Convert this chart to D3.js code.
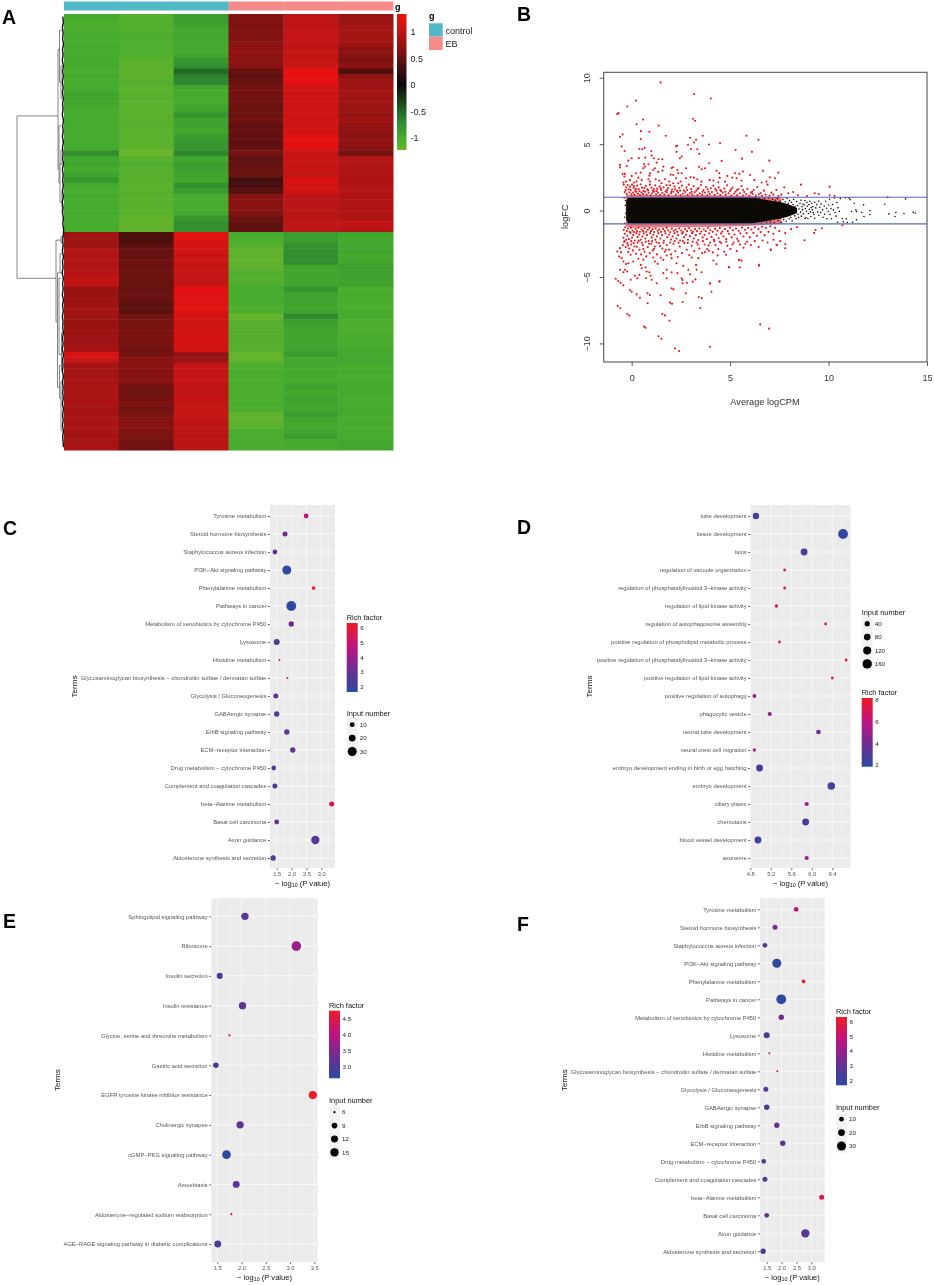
<!DOCTYPE html>
<html>
<head>
<meta charset="utf-8">
<script src="https://cdn.jsdelivr.net/npm/d3@7"></script>
<style>
  html, body { margin: 0; padding: 0; background: #fff; }
  svg { display: block; font-family: "Liberation Sans", Arial, sans-serif; filter: blur(0.35px); }
</style>
</head>
<body>
<svg id="fig" width="934" height="1285"></svg>
<script>
// ---- panel A, heatmap: one list per sample, top to bottom
const hmSamples = ['control1','control2','control3','EB1','EB2','EB3'];
const hmGroups = ['control','control','control','EB','EB','EB'];
const hmControl1 = [-0.98,-1.03,-1.03,-1.02,-1.02,-1.02,-1.02,-1.0,-0.98,-0.98,-1.03,-0.98,-1.02,-1.0,-0.94,-0.94,-0.95,-1.0,-1.0,-1.0,-1.0,-1.02,-1.0,-1.0,-1.0,-0.74,-0.95,-0.95,-1.0,-0.92,-0.82,-0.98,-1.02,-1.0,-1.0,-1.0,-1.0,-1.02,-1.02,-1.0,
 0.82,0.85,0.8,0.92,0.93,0.92,0.92,0.95,1.0,1.0,0.78,0.78,0.8,0.82,0.84,0.82,0.78,0.78,0.82,0.8,0.82,0.84,1.2,1.05,0.85,0.85,0.86,0.86,0.88,0.88,0.88,0.88,0.85,0.86,0.88,0.88,0.88,0.85,0.86,0.88];
const hmControl2 = [-1.08,-1.08,-1.08,-1.06,-1.06,-1.06,-1.06,-1.06,-1.12,-1.14,-1.16,-1.14,-1.08,-1.12,-1.12,-1.1,-1.12,-1.12,-1.12,-1.12,-1.1,-1.12,-1.12,-1.12,-1.12,-1.23,-1.1,-1.06,-1.1,-1.1,-1.1,-1.12,-1.1,-1.12,-1.12,-1.1,-1.12,-1.17,-1.17,-1.15,
 0.36,0.36,0.45,0.5,0.5,0.55,0.55,0.55,0.52,0.52,0.5,0.54,0.5,0.44,0.44,0.58,0.6,0.6,0.62,0.62,0.6,0.56,0.6,0.72,0.68,0.68,0.7,0.68,0.56,0.56,0.58,0.64,0.56,0.62,0.66,0.7,0.65,0.62,0.58,0.56];
const hmControl3 = [-0.88,-0.88,-0.95,-0.98,-0.96,-0.98,-0.98,-0.95,-0.8,-0.76,-0.52,-0.66,-0.68,-0.95,-1.0,-1.0,-0.98,-0.92,-0.8,-0.92,-0.92,-0.95,-0.86,-0.82,-0.82,-0.68,-0.95,-0.86,-0.9,-0.95,-0.95,-0.76,-0.86,-1.0,-1.0,-1.0,-0.98,-0.82,-0.74,-0.76,
 1.28,1.2,1.15,1.14,1.06,1.05,1.02,1.05,1.02,1.02,1.26,1.22,1.22,1.24,1.24,1.15,1.12,1.12,1.15,1.15,1.16,1.15,0.76,0.78,1.04,1.02,1.02,1.02,1.0,1.0,1.04,1.0,1.04,1.04,1.0,0.98,1.0,0.96,0.98,0.96];
const hmEB1 = [0.66,0.66,0.64,0.66,0.64,0.7,0.74,0.72,0.72,0.7,0.52,0.48,0.52,0.58,0.58,0.56,0.54,0.52,0.54,0.58,0.48,0.52,0.48,0.46,0.48,0.6,0.46,0.48,0.52,0.52,0.3,0.34,0.42,0.68,0.68,0.7,0.66,0.52,0.48,0.46,
 -1.02,-1.05,-1.1,-1.16,-1.16,-1.16,-1.14,-1.06,-1.1,-1.06,-1.02,-1.02,-1.02,-1.05,-1.05,-1.2,-1.1,-1.1,-1.08,-1.08,-1.1,-1.1,-1.18,-1.16,-1.05,-1.03,-1.03,-1.05,-1.05,-1.03,-1.05,-1.03,-1.03,-1.16,-1.16,-1.14,-1.03,-1.03,-1.02,-1.02];
const hmEB2 = [0.98,1.0,1.0,1.02,1.02,1.0,1.0,1.02,1.05,1.08,1.28,1.28,1.26,1.12,1.1,1.1,1.1,1.08,1.12,1.1,1.1,1.14,1.24,1.26,1.24,1.05,1.05,1.05,1.05,1.0,1.18,1.16,1.14,0.98,0.96,0.96,0.96,0.98,1.0,0.98,
 -0.86,-0.88,-0.78,-0.74,-0.74,-0.74,-0.94,-0.94,-0.95,-0.95,-0.8,-0.92,-0.92,-0.95,-0.92,-0.7,-0.88,-0.92,-0.95,-0.95,-0.95,-0.92,-0.86,-0.97,-0.97,-0.98,-0.98,-0.98,-0.92,-0.98,-0.92,-0.95,-0.95,-0.86,-0.95,-0.98,-0.95,-0.88,-0.98,-0.98];
const hmEB3 = [0.78,0.8,0.84,0.84,0.84,0.82,0.72,0.7,0.64,0.72,0.38,0.72,0.8,0.82,0.84,0.82,0.8,0.78,0.76,0.82,0.74,0.74,0.72,0.74,0.72,0.56,0.92,0.92,0.92,0.9,0.9,0.9,0.94,0.9,0.92,0.9,0.92,0.9,1.04,0.92,
 -0.96,-0.98,-0.96,-0.96,-0.98,-0.96,-0.9,-0.9,-0.92,-0.9,-1.04,-1.0,-1.02,-1.04,-1.0,-1.02,-1.04,-1.06,-1.04,-1.02,-1.02,-0.98,-0.98,-0.96,-1.0,-1.0,-1.02,-0.98,-1.0,-0.98,-1.02,-1.0,-0.98,-1.0,-1.02,-1.0,-0.98,-1.0,-0.96,-0.96];
const hmTicks = [1, 0.5, 0, -0.5, -1];
// dendrogram merges: height, row of arm a, height of arm a, row of arm b, height of arm b
const dendroMerges = [
 [47,18.2,6,48,8],[6,6,4.5,28,5],[4.5,2.5,2,12,3],[3,9,1.8,15,2],[5,20,3,30.5,4],[3,24.5,1.5,27,1.5],[4,27,2,34,2],[2,32,1.4,36,1.5],
 [8,41,3,56,7],[3,40.3,1.5,41.5,1.5],[6.5,47,4,68,3.5],[4,43.5,1.6,47,1.8],[5,48,2.5,62,2.5],[4.5,64,2,70,2.2],[3,67,1.5,76,1.8],[2.5,58,1,65,1]];
const dendroLeaf = [1.2,0.6,1.6,0.8,1.4,0.5,1.5,0.9,1.7,0.6,1.3,0.7,1.6,0.8,1.5,0.6,1.4,0.9,1.7,0.5,1.3,0.8,1.6,0.6,1.5,0.9,1.4,0.5,1.6,0.8,1.3,0.7,1.5,0.6,1.7,0.9,1.4,0.6,1.2,0.4,
 0.6,1.4,0.8,1.6,0.5,1.5,0.9,1.8,0.6,1.4,0.8,1.7,0.5,1.5,0.7,1.6,0.9,1.3,0.6,1.5,0.8,1.7,0.5,1.4,0.9,1.6,0.6,1.5,0.8,1.3,0.7,1.6,0.5,1.4,0.8,1.5,0.6,1.3,0.9,0.5];

// ---- panel B, MA plot
const maTicksX = [0,5,10,15];
const maTicksY = [-10,-5,0,5,10];
const maCut = [-1,1];
// dense black band, drawn as one envelope
const maBandX = [-0.28,-0.18,0,1,2,3,4,5,5.5,6,6.4,6.8,7.2,7.6,8,8.4];
const maBandUp = [0.7,0.98,1,1,1,1,1,1,1,0.98,0.92,0.82,0.72,0.62,0.45,0.2];
const maBandDown = [-0.7,-0.98,-1,-1,-1,-1,-1,-1,-1,-0.98,-0.9,-0.8,-0.7,-0.6,-0.42,-0.18];
// red fringe right outside the cut lines
const maFringeX = [-0.3,0,1,2,3,4,5,6,6.5,7,7.6];
const maFringeUp = [1.15,1.2,1.18,1.16,1.18,1.16,1.14,1.12,1.08,1.05,1.02];
const maFringeDown = [-1.2,-1.3,-1.28,-1.25,-1.26,-1.24,-1.2,-1.14,-1.1,-1.05,-1.02];
const maBlack = [[-0.38,0.95],[-0.33,0.4],[-0.3,-0.2],[-0.35,-0.95],[-0.31,0.75],[-0.36,-0.5],
 [6.3,0.98],[6.5,0.95],[6.6,-0.95],[6.75,0.92],[6.85,-0.88],[6.95,0.94],[7.05,-0.85],[7.15,0.85],[7.25,-0.92],[7.3,0.78],[7.4,0.9],[7.45,-0.75],[7.55,0.72],[7.6,-0.88],[7.68,0.84],[7.72,-0.68],[7.8,0.66],[7.85,-0.8],[7.9,0.92],[7.95,0.55],[8.0,-0.62],[8.02,0.75],[8.08,-0.5],[8.12,0.62],[8.15,-0.78],[8.2,0.45],[8.22,0.85],[8.28,-0.4],[8.3,0.3],[8.35,-0.62],[8.38,0.68],[8.42,0.38],[8.45,-0.28],[8.48,-0.52],[8.5,0.12],[8.55,0.55],[8.58,-0.12],[8.62,-0.42],[8.65,0.3],[8.68,0.05],[8.72,-0.25],[8.76,0.42],[8.8,-0.6],[8.82,0.15],[8.88,-0.05],[8.92,0.32],[8.98,-0.22],[9.02,0.1],[9.08,-0.1],[9.12,0.22],[9.18,0.05],[9.22,-0.15],
 [8.6,0.78],[8.7,0.5],[8.8,0.75],[8.9,0.62],[8.85,-0.52],[8.95,-0.6],[9.0,0.45],[9.05,0.7],[9.1,-0.45],[9.15,0.55],[9.2,0.3],[9.25,-0.3],[9.3,0.62],[9.3,-0.58],[9.35,0.2],[9.4,0.44],[9.45,-0.1],[9.5,-0.35],[9.5,0.72],[9.55,0.25],[9.6,-0.15],[9.62,0.5],[9.7,0.05],[9.72,-0.5],[9.78,0.35],[9.8,-0.28],[9.85,0.7],[9.9,0.18],[9.92,-0.62],[9.98,-0.05],[10.0,0.42],[10.05,0.85],[10.08,-0.3],[10.12,0.15],[10.15,-0.62],[10.2,0.45],[10.25,0.05],[10.3,0.95],[10.33,-0.15],[10.38,-0.42],[10.42,0.6],[10.46,-0.88],[10.48,0.22],[10.55,-0.05],[10.6,0.9],[10.7,-0.6],[10.75,-0.85],[10.85,0.96],[10.9,-0.62],[10.95,-0.9],[11.05,0.92],[11.1,0.82],[11.17,-0.07],[11.22,-0.88],[11.3,0.55],[11.39,0.05],[11.42,-0.07],[11.42,-0.7],[11.68,-0.15],[11.78,0.43],[11.8,-0.45],[12.1,0],[12.1,-0.3],[12.86,0.48],[13.07,-0.25],[13.42,-0.15],[13.37,-0.45],[13.83,-0.22],[13.91,0.88],[14.3,-0.12],[14.4,-0.2]];
const maRedUpper = [[1.47,9.65],[3.17,8.77],[4.02,8.44],[0.22,8.29],[-0.22,7.84],[-0.73,7.26],[-0.66,7.34],[0.58,6.86],[3.12,6.91],[3.22,6.76],[0.25,6.5],[1.37,6.41],[0.47,5.98],[0.9,5.93],[-0.46,5.73],[-0.59,5.55],[1.73,5.63],[3.61,5.63],[5.83,5.63],[6.44,5.33],[2.97,5.48],[3.27,5.33],[3.17,5.13],[0.46,5.38],[4.49,5.08],[2.86,4.95],[3.93,4.97],[2.3,4.87],
 [-0.51,4.82],[-0.36,4.49],[0.39,4.64],[0.54,4.62],[0.66,4.72],[1.0,4.49],[1.02,4.14],[1.13,3.94],[0,3.94],[-0.17,3.76],[0.36,3.96],[0.69,3.99],[1.37,3.86],[1.56,3.86],[1.27,3.61],[2.25,4.84],[2.28,4.42],[2.54,4.07],[2.45,3.94],[3.01,4.64],[3.33,4.62],[3.43,4.27],[5.28,4.57],[5.6,3.91],[6.11,4.42],[6.99,3.76],[4.57,3.74],[3.94,3.56],[3.42,3.29],[3.72,3.19],[3.55,3.11],[-0.59,3.44],[-0.59,3.24],[-0.25,3.36],[0.63,3.51],[0.68,3.31],[0.85,3.49],[0.59,3.19],[1.18,3.19],[1.61,3.31],[1.57,3.01],[1.35,2.91],[0.93,2.81],[0.9,2.63],[1.22,2.36],[-0.46,2.76],[-0.34,2.76],[-0.37,2.56],[0,2.61],[0.22,2.81],[0.46,2.86],[0.34,2.48],[1.1,3.06],[2.03,3.21],[2.11,3.26],[2.32,3.06],[1.98,2.71],[2.11,2.68],[2.37,2.81],[2.54,2.81],[2.76,3.19],[3.16,2.48],[3.33,2.36],[2.99,2.51],[4.31,3.01],[4.45,2.81],[4.47,2.48],[4.86,2.61],[5.25,2.81],[5.47,2.76],[5.65,2.94],[6.01,2.68],[6.67,2.99],[7.45,2.86],[7.02,2.51],[7.28,2.43],[6.85,2.18],[6.6,2.11],[6.23,2.31],[5.58,2.26],[5.33,2.43],[5.11,2.48],[4.74,2.18],[4.4,2.13],[4.15,2.26],[3.96,2.31],[3.55,2.18],[2.76,2.43],[2.49,2.18],[2.25,2.43],[1.91,2.18],[1.69,2.36],[1.52,2.06],[2.37,2.06],[2.11,2.06],[1.78,1.93],[1.4,2.26],[0.93,2.18],[0.85,2.36],[0.51,2.31],[0.25,2.18],[0.12,2.11],[-0.08,2.31],[-0.29,2.18],[-0.42,2.11],
 [-0.4,1.95],[-0.28,1.75],[-0.2,1.92],[-0.15,1.6],[-0.08,1.8],[0.02,1.95],[0.1,1.7],[0.18,1.5],[0.28,1.88],[0.36,1.62],[0.45,1.98],[0.52,1.72],[0.6,1.48],[0.72,1.85],[0.8,1.6],[0.92,1.95],[1.0,1.72],[1.08,1.5],[1.2,1.9],[1.3,1.65],[1.42,1.82],[1.5,1.55],[1.62,1.76],[1.72,1.45],[1.85,1.7],[1.95,1.9],[2.05,1.58],[2.18,1.82],[2.3,1.48],[2.42,1.72],[2.55,1.88],[2.65,1.52],[2.78,1.75],[2.9,1.95],[3.02,1.62],[3.15,1.85],[3.28,1.5],[3.4,1.7],[3.52,1.92],[3.65,1.55],[3.78,1.78],[3.9,1.42],[4.02,1.68],[4.15,1.88],[4.3,1.5],[4.42,1.75],[4.55,1.45],[4.7,1.66],[4.85,1.9],[5.0,1.48],[5.12,1.72],[5.28,1.42],[5.42,1.6],[5.58,1.85],[5.72,1.4],[5.88,1.62],[6.05,1.35],[6.2,1.55],[6.38,1.78],[6.55,1.32],[6.72,1.5],[6.9,1.95],[7.1,1.35],[7.35,1.55],[7.75,1.75],[7.6,1.2],[7.95,1.3],[8.2,1.4],[8.6,1.95],[8.45,1.15],[8.9,1.1],[9.3,1.3],[9.5,1.25],[10.05,1.8],[10.05,1.15],[10.3,1.12],[13,1.0],
 [-0.35,1.4],[-0.25,1.25],[-0.12,1.38],[-0.02,1.22],[0.08,1.35],[0.14,1.18],[0.24,1.42],[0.32,1.28],[0.42,1.16],[0.5,1.36],[0.58,1.24],[0.68,1.42],[0.76,1.2],[0.86,1.34],[0.96,1.15],[1.04,1.3],[1.14,1.42],[1.24,1.22],[1.34,1.36],[1.44,1.18],[1.56,1.32],[1.66,1.2],[1.78,1.38],[1.88,1.16],[2.0,1.3],[2.12,1.42],[2.24,1.2],[2.36,1.35],[2.48,1.16],[2.6,1.28],[2.72,1.4],[2.84,1.18],[2.96,1.32],[3.08,1.22],[3.2,1.38],[3.34,1.16],[3.46,1.3],[3.58,1.2],[3.72,1.36],[3.84,1.15],[3.96,1.26],[4.08,1.4],[4.22,1.18],[4.36,1.3],[4.5,1.16],[4.62,1.36],[4.78,1.2],[4.92,1.3],[5.06,1.14],[5.2,1.28],[5.36,1.16],[5.5,1.3],[5.66,1.14],[5.82,1.24],[5.98,1.12],[6.14,1.25],[6.3,1.14],[6.46,1.22],[6.62,1.12],[6.8,1.2],[7.0,1.12],[7.2,1.2],[7.45,1.1],
 [-0.3,1.55],[-0.05,1.55],[0.12,1.85],[0.22,1.62],[0.4,1.45],[0.64,1.7],[0.84,1.52],[1.12,1.62],[1.26,1.48],[1.48,1.68],[1.8,1.55],[2.02,1.42],[2.2,1.6],[2.46,1.5],[2.82,1.55],[3.05,1.42],[3.35,1.62],[3.6,1.42],[3.86,1.6],[4.25,1.62],[4.5,1.55],[4.76,1.42],[5.05,1.6],[5.35,1.55],[5.66,1.55],[6.12,1.42]];
const maRedLower = [[2.41,-10.58],[2.2,-10.38],[3.97,-10.25],[1.36,-9.47],[1.51,-9.65],[6.98,-8.89],[6.53,-8.57],[0.63,-8.74],[0.7,-8.82],[1.92,-8.29],[1.56,-7.79],[1.69,-7.89],[-0.12,-7.91],[-0.22,-7.79],[-0.71,-7.19],[-0.58,-7.34],[0.81,-6.98],[1.95,-6.93],[2.05,-7.01],[2.59,-6.88],[3.49,-7.34],[3.41,-6.51],[3.56,-6.58],[1.47,-6.38],[0.81,-6.23],[0.93,-6.36],[0.42,-6.56],[0.25,-6.31],[0,-6.11],[-0.08,-5.98],[-0.81,-5.13],[-0.68,-5.3],[-0.56,-5.43],[-0.42,-5.63],[4.05,-6.11],[3.98,-5.5],[4.47,-5.33],[2.75,-6.23],[2.12,-5.93],[2.03,-5.85],[2.58,-5.48],[2.58,-5.23],[2.81,-5.43],[3.1,-5.35],[3.24,-5.18],[6.47,-4.15],[4.95,-4.27],[5.49,-4.27],[5.58,-3.77],[5.45,-3.72],[8.78,-2.24],[9.27,-1.68],[9.66,-1.33],[9.34,-1.46],[7.8,-2.84],[7.8,-2.52],[7.07,-2.96],[7.37,-2.59],[10.7,-1.1],
 [-0.73,-3.08],[-0.59,-2.83],[-0.54,-3.13],[-0.63,-3.46],[-0.51,-3.58],[-0.42,-3.83],[-0.29,-4.03],[-0.17,-3.96],[-0.34,-4.46],[-0.42,-4.64],[-0.59,-4.46],[-0.22,-4.59],[-0.05,-5.21],[0.17,-4.91],[0.29,-5.09],[0.39,-4.84],[0.51,-4.34],[0.71,-4.29],[0.46,-4.09],[0.76,-4.59],[0.9,-4.64],[0.96,-4.91],[0.73,-5.09],[1.02,-5.21],[1.27,-5.47],[1.61,-4.71],[1.78,-4.46],[2.03,-4.64],[1.78,-5.09],[2.32,-4.71],[2.54,-5.09],[2.96,-4.79],[2.88,-4.46],[3.3,-4.46],[3.27,-4.09],[3.55,-4.64],[3.98,-5.47],[4.45,-5.34],[4.94,-4.26],[4.31,-4.03],[4.15,-3.76],[4.37,-3.38],[4.79,-3.33],[5.47,-3.71],[6.46,-4.09],[7.06,-2.93],[7.36,-2.58],[3.72,-3.13],[3.93,-3.03],[3.38,-3.58],[3.05,-3.53],[2.62,-4.16],[2.28,-3.96],[2.03,-3.58],[1.78,-3.38],[1.61,-3.71],[1.32,-4.01],[1.1,-3.53],[1.18,-3.83],[0.59,-3.71],[0.34,-3.63],[0.08,-3.83],[-0.05,-3.33],[-0.17,-3.13],
 [-0.45,-2.6],[-0.38,-2.35],[-0.3,-2.75],[-0.22,-2.45],[-0.12,-2.85],[-0.02,-2.55],[0.06,-3.0],[0.14,-2.7],[0.22,-3.25],[0.3,-2.4],[0.4,-2.95],[0.48,-3.3],[0.56,-2.6],[0.66,-3.1],[0.74,-3.45],[0.82,-2.75],[0.92,-3.2],[1.0,-2.5],[1.08,-3.0],[1.18,-2.7],[1.28,-3.3],[1.38,-2.45],[1.48,-3.55],[1.56,-2.85],[1.68,-3.1],[1.78,-2.6],[1.9,-2.95],[2.0,-3.3],[2.12,-2.5],[2.22,-3.05],[2.34,-3.5],[2.44,-2.7],[2.56,-3.2],[2.68,-2.45],[2.8,-2.95],[2.92,-3.35],[3.05,-2.65],[3.18,-3.05],[3.3,-2.4],[3.44,-2.85],[3.58,-3.2],[3.7,-2.55],[3.84,-2.9],[3.98,-2.4],[4.12,-3.15],[4.26,-2.6],[4.4,-2.9],[4.55,-2.45],[4.7,-3.1],[4.86,-2.65],[5.02,-2.9],[5.18,-2.4],[5.34,-3.05],[5.5,-2.55],[5.68,-2.8],[5.86,-2.35],[6.05,-2.6],[6.25,-2.3],[6.45,-2.75],[6.65,-2.25],[6.9,-2.4],[7.2,-2.2],[7.55,-2.3],
 [-0.42,-2.05],[-0.35,-1.75],[-0.28,-2.2],[-0.22,-1.9],[-0.14,-2.15],[-0.06,-1.7],[0.02,-2.05],[0.08,-1.85],[0.16,-2.25],[0.24,-1.7],[0.3,-2.0],[0.38,-1.8],[0.46,-2.2],[0.54,-1.95],[0.62,-1.72],[0.7,-2.1],[0.78,-1.85],[0.86,-2.28],[0.94,-1.7],[1.02,-2.02],[1.1,-1.82],[1.2,-2.2],[1.28,-1.95],[1.36,-1.7],[1.46,-2.1],[1.54,-1.85],[1.64,-2.25],[1.72,-1.72],[1.82,-2.0],[1.9,-1.8],[2.0,-2.18],[2.08,-1.95],[2.18,-1.7],[2.28,-2.1],[2.36,-1.85],[2.46,-2.25],[2.56,-1.72],[2.66,-2.0],[2.76,-1.82],[2.86,-2.2],[2.96,-1.92],[3.06,-1.7],[3.16,-2.1],[3.26,-1.85],[3.38,-2.22],[3.48,-1.75],[3.6,-2.02],[3.7,-1.82],[3.82,-2.15],[3.94,-1.72],[4.06,-1.98],[4.18,-2.2],[4.3,-1.8],[4.42,-2.08],[4.54,-1.72],[4.66,-1.95],[4.8,-2.15],[4.94,-1.75],[5.08,-2.02],[5.22,-1.8],[5.36,-2.12],[5.52,-1.72],[5.68,-1.95],[5.84,-1.7],[6.0,-2.0],[6.18,-1.68],[6.36,-1.9],[6.55,-1.62],[6.75,-1.85],[6.95,-1.6],[7.2,-1.75],[7.5,-1.55],[7.8,-1.7],[8.1,-1.4],[8.4,-1.25],
 [-0.4,-1.45],[-0.33,-1.25],[-0.25,-1.55],[-0.18,-1.35],[-0.1,-1.6],[-0.04,-1.3],[0.04,-1.5],[0.12,-1.62],[0.2,-1.38],[0.27,-1.55],[0.35,-1.3],[0.42,-1.6],[0.5,-1.42],[0.58,-1.55],[0.66,-1.35],[0.74,-1.6],[0.82,-1.45],[0.9,-1.32],[0.98,-1.55],[1.06,-1.4],[1.14,-1.62],[1.22,-1.35],[1.32,-1.52],[1.4,-1.42],[1.5,-1.6],[1.6,-1.38],[1.68,-1.55],[1.78,-1.3],[1.86,-1.48],[1.96,-1.62],[2.04,-1.36],[2.14,-1.52],[2.24,-1.42],[2.32,-1.6],[2.42,-1.35],[2.52,-1.5],[2.62,-1.62],[2.72,-1.4],[2.82,-1.55],[2.92,-1.32],[3.02,-1.5],[3.12,-1.6],[3.22,-1.4],[3.32,-1.55],[3.44,-1.35],[3.54,-1.58],[3.66,-1.42],[3.76,-1.55],[3.88,-1.32],[4.0,-1.48],[4.12,-1.6],[4.24,-1.38],[4.36,-1.52],[4.48,-1.32],[4.6,-1.58],[4.74,-1.4],[4.88,-1.55],[5.0,-1.3],[5.14,-1.48],[5.3,-1.35],[5.44,-1.52],[5.6,-1.28],[5.76,-1.45],[5.92,-1.3],[6.08,-1.42],[6.26,-1.25],[6.44,-1.4],[6.62,-1.22],[6.82,-1.32],[7.04,-1.18],[7.28,-1.3],
 [-0.36,-2.3],[-0.18,-2.62],[-0.02,-2.3],[0.1,-2.45],[0.26,-2.72],[0.36,-2.28],[0.52,-2.42],[0.6,-2.9],[0.72,-2.35],[0.88,-2.5],[1.04,-2.3],[1.14,-2.88],[1.26,-2.38],[1.44,-2.68],[1.62,-2.42],[1.74,-2.95],[1.96,-2.4],[2.18,-2.3],[2.38,-2.42],[2.6,-2.3],[2.85,-2.45],[3.1,-2.35],[3.36,-2.55],[3.62,-2.3],[3.9,-2.62],[4.2,-2.3],[4.48,-2.35],[4.8,-2.35],[5.12,-2.55],[5.42,-2.3],[5.78,-2.5]];

// ---- panels C and F (same terms)
const cTerms = ['Tyrosine metabolism','Steroid hormone biosynthesis','Staphylococcus aureus infection','PI3K\u2212Akt signaling pathway','Phenylalanine metabolism','Pathways in cancer','Metabolism of xenobiotics by cytochrome P450','Lysosome','Histidine metabolism','Glycosaminoglycan biosynthesis \u2212 chondroitin sulfate / dermatan sulfate','Glycolysis / Gluconeogenesis','GABAergic synapse','ErbB signaling pathway','ECM\u2212receptor interaction','Drug metabolism \u2212 cytochrome P450','Complement and coagulation cascades','beta\u2212Alanine metabolism','Basal cell carcinoma','Axon guidance','Aldosterone synthesis and secretion'];
const cP = [2.49,1.78,1.44,1.84,2.74,1.99,1.99,1.5,1.59,1.86,1.47,1.5,1.84,2.04,1.4,1.44,3.35,1.5,2.8,1.38];
const cInput = [10,11,10,30,8,33,13,16,5,5,11,13,13,13,10,11,11,10,27,13];
const cRich = [4.6,3.3,2.7,1.75,6.3,1.7,3.3,2.4,4.6,5,2.7,2.6,2.9,3,2.6,2.6,5.6,3,2.7,2.5];
const cTicks = [1.5,2,2.5,3];
const cRichTicks = [6,5,4,3,2];
const cSizeTicks = [10,20,30];

// ---- panel D
const dTerms = ['tube development','tissue development','taxis','regulation of vacuole organization','regulation of phosphatidylinositol 3\u2212kinase activity','regulation of lipid kinase activity','regulation of autophagosome assembly','positive regulation of phospholipid metabolic process','positive regulation of phosphatidylinositol 3\u2212kinase activity','positive regulation of lipid kinase activity','positive regulation of autophagy','phagocytic vesicle','neural tube development','neural crest cell migration','embryo development ending in birth or egg hatching','embryo development','ciliary plasm','chemotaxis','blood vessel development','axoneme'];
const dP = [4.91,6.61,5.85,5.47,5.47,5.31,6.27,5.37,6.67,6.4,4.88,5.18,6.13,4.88,4.98,6.38,5.9,5.88,4.95,5.9];
const dInput = [75,170,88,20,20,24,20,20,20,20,28,32,36,24,88,108,32,88,88,32];
const dRich = [2.7,2.1,2.8,7.2,7.2,6.8,7.4,7.2,7.8,7.8,4.8,4.6,4,6,2.7,2.5,5,2.9,2.6,5];
const dTicks = [4.8,5.2,5.6,6,6.4];
const dRichTicks = [8,6,4,2];
const dSizeTicks = [40,80,120,160];

// ---- panel E
const eTerms = ['Sphingolipid signaling pathway','Ribosome','Insulin secretion','Insulin resistance','Glycine, serine and threonine metabolism','Gastric acid secretion','EGFR tyrosine kinase inhibitor resistance','Cholinergic synapse','cGMP\u2212PKG signaling pathway','Amoebiasis','Aldosterone\u2212regulated sodium reabsorption','AGE\u2212RAGE signaling pathway in diabetic complications'];
const eP = [2.07,3.13,1.55,2.02,1.75,1.47,3.47,1.97,1.69,1.89,1.79,1.51];
const eInput = [13,18,10,13,6,9,15,13,16,12,6,12];
const eRich = [3.15,3.75,3.05,3.15,4.5,3.05,4.75,3.2,2.65,3.2,4.5,2.95];
const eTicks = [1.5,2,2.5,3,3.5];
const eRichTicks = [4.5,4,3.5,3];
const eSizeTicks = [6,9,12,15];

const svg = d3.select('#fig');
const richColors = ['#2a4b9f','#6e2d91','#c0137f','#ee1b24'];

// ---------- A: heatmap
const hmMatrix = [hmControl1,hmControl2,hmControl3,hmEB1,hmEB2,hmEB3];
const hmX = d3.scaleBand().domain(hmSamples).range([64,393]);
const hmY = d3.scaleBand().domain(d3.range(hmControl1.length)).range([14,450]);
const hmColor = d3.scaleLinear()
  .domain([-1.23,-1,-0.7,0,0.5,1,1.34])
  .range(['#6cb52b','#45ac2e','#2f8a30','#0a0a0a','#651210','#c01515','#ee1010']);
const groupColor = d3.scaleOrdinal().domain(['control','EB']).range(['#4fbac6','#f58a8a']);

const hm = svg.append('g');
hmSamples.forEach((s,c) => {
  hm.selectAll('rect.c'+c)
    .data(hmMatrix[c])
    .enter().append('rect')
    .attr('x',hmX(s))
    .attr('y',(d,i)=>hmY(i))
    .attr('width',hmX.bandwidth()+0.5)
    .attr('height',hmY.bandwidth()+0.5)
    .attr('fill',d=>hmColor(d));
});
hm.selectAll('rect.anno')
  .data(hmSamples)
  .enter().append('rect')
  .attr('x',d=>hmX(d))
  .attr('y',1.5)
  .attr('width',hmX.bandwidth()+0.3)
  .attr('height',9)
  .attr('fill',(d,i)=>groupColor(hmGroups[i]));
hm.append('text').text('g').attr('x',395).attr('y',10).attr('font-size',9).attr('font-weight','bold');

// dendrogram
const dendX = d3.scaleLinear().domain([0,47]).range([64,17]);
const dendY = d3.scaleLinear().domain([0,hmControl1.length]).range([14+2.7,450+2.7]);
const dend = svg.append('g').attr('fill','none');
dend.selectAll('path.merge')
  .data(dendroMerges)
  .enter().append('path')
  .attr('d',m => d3.line()([[dendX(m[2]),dendY(m[1])],[dendX(m[0]),dendY(m[1])],[dendX(m[0]),dendY(m[3])],[dendX(m[4]),dendY(m[3])]]))
  .attr('stroke','#666')
  .attr('stroke-width',0.8);
dend.append('path')
  .datum(dendroLeaf)
  .attr('d',d3.line().x(d=>dendX(d)).y((d,i)=>dendY(i)))
  .attr('stroke','#111')
  .attr('stroke-width',1.4);

// heatmap colour bar
const hmBar = d3.scaleLinear().domain([-1.23,1.34]).range([150,14]);
const grad = svg.append('defs').append('linearGradient').attr('id','hmGrad').attr('x1',0).attr('x2',0).attr('y1',1).attr('y2',0);
hmColor.domain().forEach((v,i) => {
  grad.append('stop')
    .attr('offset',(v+1.23)/(1.34+1.23))
    .attr('stop-color',hmColor.range()[i]);
});
svg.append('rect').attr('x',397).attr('y',14).attr('width',9.5).attr('height',136).attr('fill','url(#hmGrad)');
svg.selectAll('text.hmtick')
  .data(hmTicks)
  .enter().append('text')
  .text(d=>d)
  .attr('x',410.5)
  .attr('y',d=>hmBar(d)+3.2)
  .attr('font-size',9)
  .attr('fill','#222');

const hmLegY = d3.scaleBand().domain(['control','EB']).range([23.3,50]);
svg.append('text').text('g').attr('x',429).attr('y',19).attr('font-size',9).attr('font-weight','bold');
svg.selectAll('rect.hmleg')
  .data(hmLegY.domain())
  .enter().append('rect')
  .attr('x',429)
  .attr('y',d=>hmLegY(d))
  .attr('width',13.7)
  .attr('height',hmLegY.bandwidth())
  .attr('fill',d=>groupColor(d));
svg.selectAll('text.hmleg')
  .data(hmLegY.domain())
  .enter().append('text')
  .text(d=>d)
  .attr('x',445.5)
  .attr('y',d=>hmLegY(d)+10.3)
  .attr('font-size',9)
  .attr('fill','#222');

// ---------- B: MA plot
const maX = d3.scaleLinear().domain([-1.42,15]).range([603.7,927]);
const maY = d3.scaleLinear().domain([-11.4,10.41]).range([362,72.3]);
const ma = svg.append('g');
ma.append('path')
  .datum(maFringeX)
  .attr('d',d3.area().x(d=>maX(d)).y0((d,i)=>maY(maFringeDown[i])).y1((d,i)=>maY(maFringeUp[i])))
  .attr('fill','#e01a1a')
  .attr('opacity',0.6);
ma.selectAll('circle.red')
  .data(maRedUpper.concat(maRedLower))
  .enter().append('circle')
  .attr('cx',d=>maX(d[0]))
  .attr('cy',d=>maY(d[1]))
  .attr('r',1.05)
  .attr('fill','#e8141a');
ma.append('path')
  .datum(maBandX)
  .attr('d',d3.area().x(d=>maX(d)).y0((d,i)=>maY(maBandDown[i])).y1((d,i)=>maY(maBandUp[i])))
  .attr('fill','#0c0a05');
ma.selectAll('circle.black')
  .data(maBlack)
  .enter().append('circle')
  .attr('cx',d=>maX(d[0]))
  .attr('cy',d=>maY(d[1]))
  .attr('r',0.8)
  .attr('fill','#111');
ma.selectAll('line.cut')
  .data(maCut)
  .enter().append('line')
  .attr('x1',maX.range()[0])
  .attr('x2',maX.range()[1])
  .attr('y1',d=>maY(d))
  .attr('y2',d=>maY(d))
  .attr('stroke','#5a62c4')
  .attr('stroke-width',1.1);
ma.append('rect')
  .attr('x',603.7).attr('y',72.3).attr('width',323.3).attr('height',289.7)
  .attr('fill','none').attr('stroke','#555').attr('stroke-width',1.1);

const maAxX = ma.append('g').attr('transform','translate(0,362)')
  .call(d3.axisBottom(maX).tickValues(maTicksX).tickSize(4).tickPadding(9));
const maAxY = ma.append('g').attr('transform','translate(603.7,0)')
  .call(d3.axisLeft(maY).tickValues(maTicksY).tickSize(4).tickFormat(d=>d<0?'\u2212'+(-d):d));
[maAxX,maAxY].forEach(a => {
  a.select('.domain').remove();
  a.selectAll('line').attr('stroke','#555');
  a.selectAll('text').attr('font-size',9).attr('fill','#333').attr('font-family','inherit');
});
maAxY.selectAll('text')
  .attr('transform','rotate(-90)')
  .attr('x',0)
  .attr('y',-14)
  .attr('dy',0)
  .attr('text-anchor','middle');
ma.append('text').text('Average logCPM').attr('x',765).attr('y',404.5).attr('text-anchor','middle').attr('font-size',9.2).attr('fill','#333');
ma.append('text').text('logFC').attr('transform','translate(568,216.7) rotate(-90)').attr('text-anchor','middle').attr('font-size',9.2).attr('fill','#333');

// ---------- C-F: bubble plots
let gradId = 0;
function bubblePlot(terms, pVals, inputs, rich, opt) {
  const g = svg.append('g');
  const x = d3.scaleLinear()
    .domain([opt.ticks[0], opt.ticks[opt.ticks.length-1]])
    .range(opt.tickPx);
  const left = opt.panel[0], right = opt.panel[1], top = opt.panel[2], bottom = opt.panel[3];
  const y = d3.scalePoint().domain(terms).range(opt.rowPx);
  const size = d3.scaleLinear().domain(opt.sizeDomain).range(opt.sizeRange);
  const richStops = d3.range(4).map(i => opt.richDomain[0]+i/3*(opt.richDomain[1]-opt.richDomain[0]));
  const color = d3.scaleLinear().domain(richStops).range(richColors);

  g.append('rect').attr('x',left).attr('y',top).attr('width',right-left).attr('height',bottom-top).attr('fill','#ebebeb');
  const step = opt.ticks[1]-opt.ticks[0];
  const minor = d3.range(opt.ticks[0]-step/2, x.invert(right), step).filter(d=>x(d)>left);
  g.selectAll('line.minor').data(minor).enter().append('line')
    .attr('x1',d=>x(d)).attr('x2',d=>x(d)).attr('y1',top).attr('y2',bottom)
    .attr('stroke','#fff').attr('stroke-width',0.3);
  g.selectAll('line.major').data(opt.ticks).enter().append('line')
    .attr('x1',d=>x(d)).attr('x2',d=>x(d)).attr('y1',top).attr('y2',bottom)
    .attr('stroke','#fff').attr('stroke-width',0.6);
  g.selectAll('line.row').data(terms).enter().append('line')
    .attr('x1',left).attr('x2',right).attr('y1',d=>y(d)).attr('y2',d=>y(d))
    .attr('stroke','#fff').attr('stroke-width',0.7);

  const axL = g.append('g').attr('transform','translate('+left+',0)')
    .call(d3.axisLeft(y).tickSize(2.2).tickPadding(1.5));
  const axB = g.append('g').attr('transform','translate(0,'+bottom+')')
    .call(d3.axisBottom(x).tickValues(opt.ticks).tickSize(2.2).tickPadding(1.5).tickFormat(d3.format('.1f')));
  [axL,axB].forEach(a => {
    a.select('.domain').remove();
    a.selectAll('line').attr('stroke','#333').attr('stroke-width',0.7);
    a.selectAll('text').attr('font-size',5.8).attr('fill','#555').attr('font-family','inherit');
  });

  g.selectAll('circle.pt').data(terms).enter().append('circle')
    .attr('cx',(d,i)=>x(pVals[i]))
    .attr('cy',d=>y(d))
    .attr('r',(d,i)=>size(inputs[i]))
    .attr('fill',(d,i)=>color(rich[i]));

  g.append('text').text('Terms')
    .attr('transform','translate('+opt.termsX+','+(top+bottom)/2+') rotate(-90)')
    .attr('text-anchor','middle').attr('font-size',8).attr('fill','#111');

  const xt = g.append('text').attr('x',(left+right)/2).attr('y',bottom+17.5)
    .attr('text-anchor','middle').attr('font-size',7.6).attr('fill','#111');
  xt.append('tspan').text('\u2212 log');
  xt.append('tspan').text('10').attr('font-size',5.4).attr('dy',1.8);
  xt.append('tspan').text(' (P value)').attr('dy',-1.8);

  // rich factor legend
  const barTop = opt.richBar[0], barBot = opt.richBar[1], lx = opt.legendX;
  const barScale = d3.scaleLinear().domain(opt.richDomain).range([barBot,barTop]);
  const id = 'rich'+(gradId++);
  const lg = svg.select('defs').append('linearGradient').attr('id',id).attr('x1',0).attr('x2',0).attr('y1',1).attr('y2',0);
  richColors.forEach((c,i) => lg.append('stop').attr('offset',i/3).attr('stop-color',c));
  g.append('text').text('Rich factor').attr('x',lx).attr('y',barTop-3).attr('font-size',7.4).attr('fill','#111');
  g.append('rect').attr('x',lx).attr('y',barTop).attr('width',11).attr('height',barBot-barTop).attr('fill','url(#'+id+')');
  g.selectAll('text.rt').data(opt.richTicks).enter().append('text')
    .text(d=>opt.richFormat?opt.richFormat(d):d)
    .attr('x',lx+13.5)
    .attr('y',d=>barScale(d)+2.2)
    .attr('font-size',6.2)
    .attr('fill','#222');

  // input number legend
  const keyH = 13.4, keyTop = opt.sizeTop;
  const keyY = d3.scaleBand().domain(opt.sizeTicks).range([keyTop,keyTop+keyH*opt.sizeTicks.length]);
  g.append('text').text('Input number').attr('x',lx).attr('y',keyTop-2.5).attr('font-size',7.4).attr('fill','#111');
  g.selectAll('rect.key').data(opt.sizeTicks).enter().append('rect')
    .attr('x',lx).attr('y',d=>keyY(d)).attr('width',11).attr('height',keyH).attr('fill','#f2f2f2');
  g.selectAll('circle.key').data(opt.sizeTicks).enter().append('circle')
    .attr('cx',lx+5.5).attr('cy',d=>keyY(d)+keyH/2).attr('r',d=>size(d)).attr('fill','#000');
  g.selectAll('text.key').data(opt.sizeTicks).enter().append('text')
    .text(d=>d)
    .attr('x',lx+13)
    .attr('y',d=>keyY(d)+keyH/2+2.2)
    .attr('font-size',6.2)
    .attr('fill','#222');
}

const cSizeDomain = [5,10,20,30,33];
const cSizeRange = [1,2.4,3.4,4.5,4.9];
bubblePlot(cTerms,cP,cInput,cRich,{
  ticks:cTicks, tickPx:[276.7,321.3], panel:[270,335,505,868], rowPx:[516,858],
  sizeDomain:cSizeDomain, sizeRange:cSizeRange, richDomain:[1.66,6.34], richTicks:cRichTicks,
  sizeTicks:cSizeTicks, termsX:76.5, legendX:346.7, richBar:[623,692], sizeTop:718
});
bubblePlot(dTerms,dP,dInput,dRich,{
  ticks:dTicks, tickPx:[750.3,832.3], panel:[750.3,850.7,505,868], rowPx:[516,858],
  sizeDomain:[15,40,160,175], sizeRange:[1.1,2.6,4.7,5], richDomain:[1.85,8.2], richTicks:dRichTicks,
  sizeTicks:dSizeTicks, termsX:592, legendX:861.7, richBar:[698,766.7], sizeTop:617
});
bubblePlot(eTerms,eP,eInput,eRich,{
  ticks:eTicks, tickPx:[217.3,314.3], panel:[211.3,317.7,898.3,1262], rowPx:[916.3,1244],
  sizeDomain:[6,9,15,18], sizeRange:[1.1,2.8,4.1,4.8], richDomain:[2.65,4.75], richTicks:eRichTicks, richFormat:d3.format('.1f'),
  sizeTicks:eSizeTicks, termsX:59.5, legendX:329, richBar:[1010.7,1078.3], sizeTop:1105.5
});
bubblePlot(cTerms,cP,cInput,cRich,{
  ticks:cTicks, tickPx:[766.7,811.3], panel:[760,824.7,898.3,1262], rowPx:[909.3,1251.3],
  sizeDomain:cSizeDomain, sizeRange:cSizeRange, richDomain:[1.66,6.34], richTicks:cRichTicks,
  sizeTicks:cSizeTicks, termsX:566.5, legendX:836, richBar:[1017,1085.3], sizeTop:1112.5
});

// panel letters
const letters = ['A','B','C','D','E','F'];
const letterX = [2,517,3,517,3,517];
const letterY = [24,21,535,534,928,931];
svg.selectAll('text.letter').data(letters).enter().append('text')
  .text(d=>d)
  .attr('x',(d,i)=>letterX[i])
  .attr('y',(d,i)=>letterY[i])
  .attr('font-size',19.5)
  .attr('font-weight','bold')
  .attr('fill','#000');
</script>
</body>
</html>
